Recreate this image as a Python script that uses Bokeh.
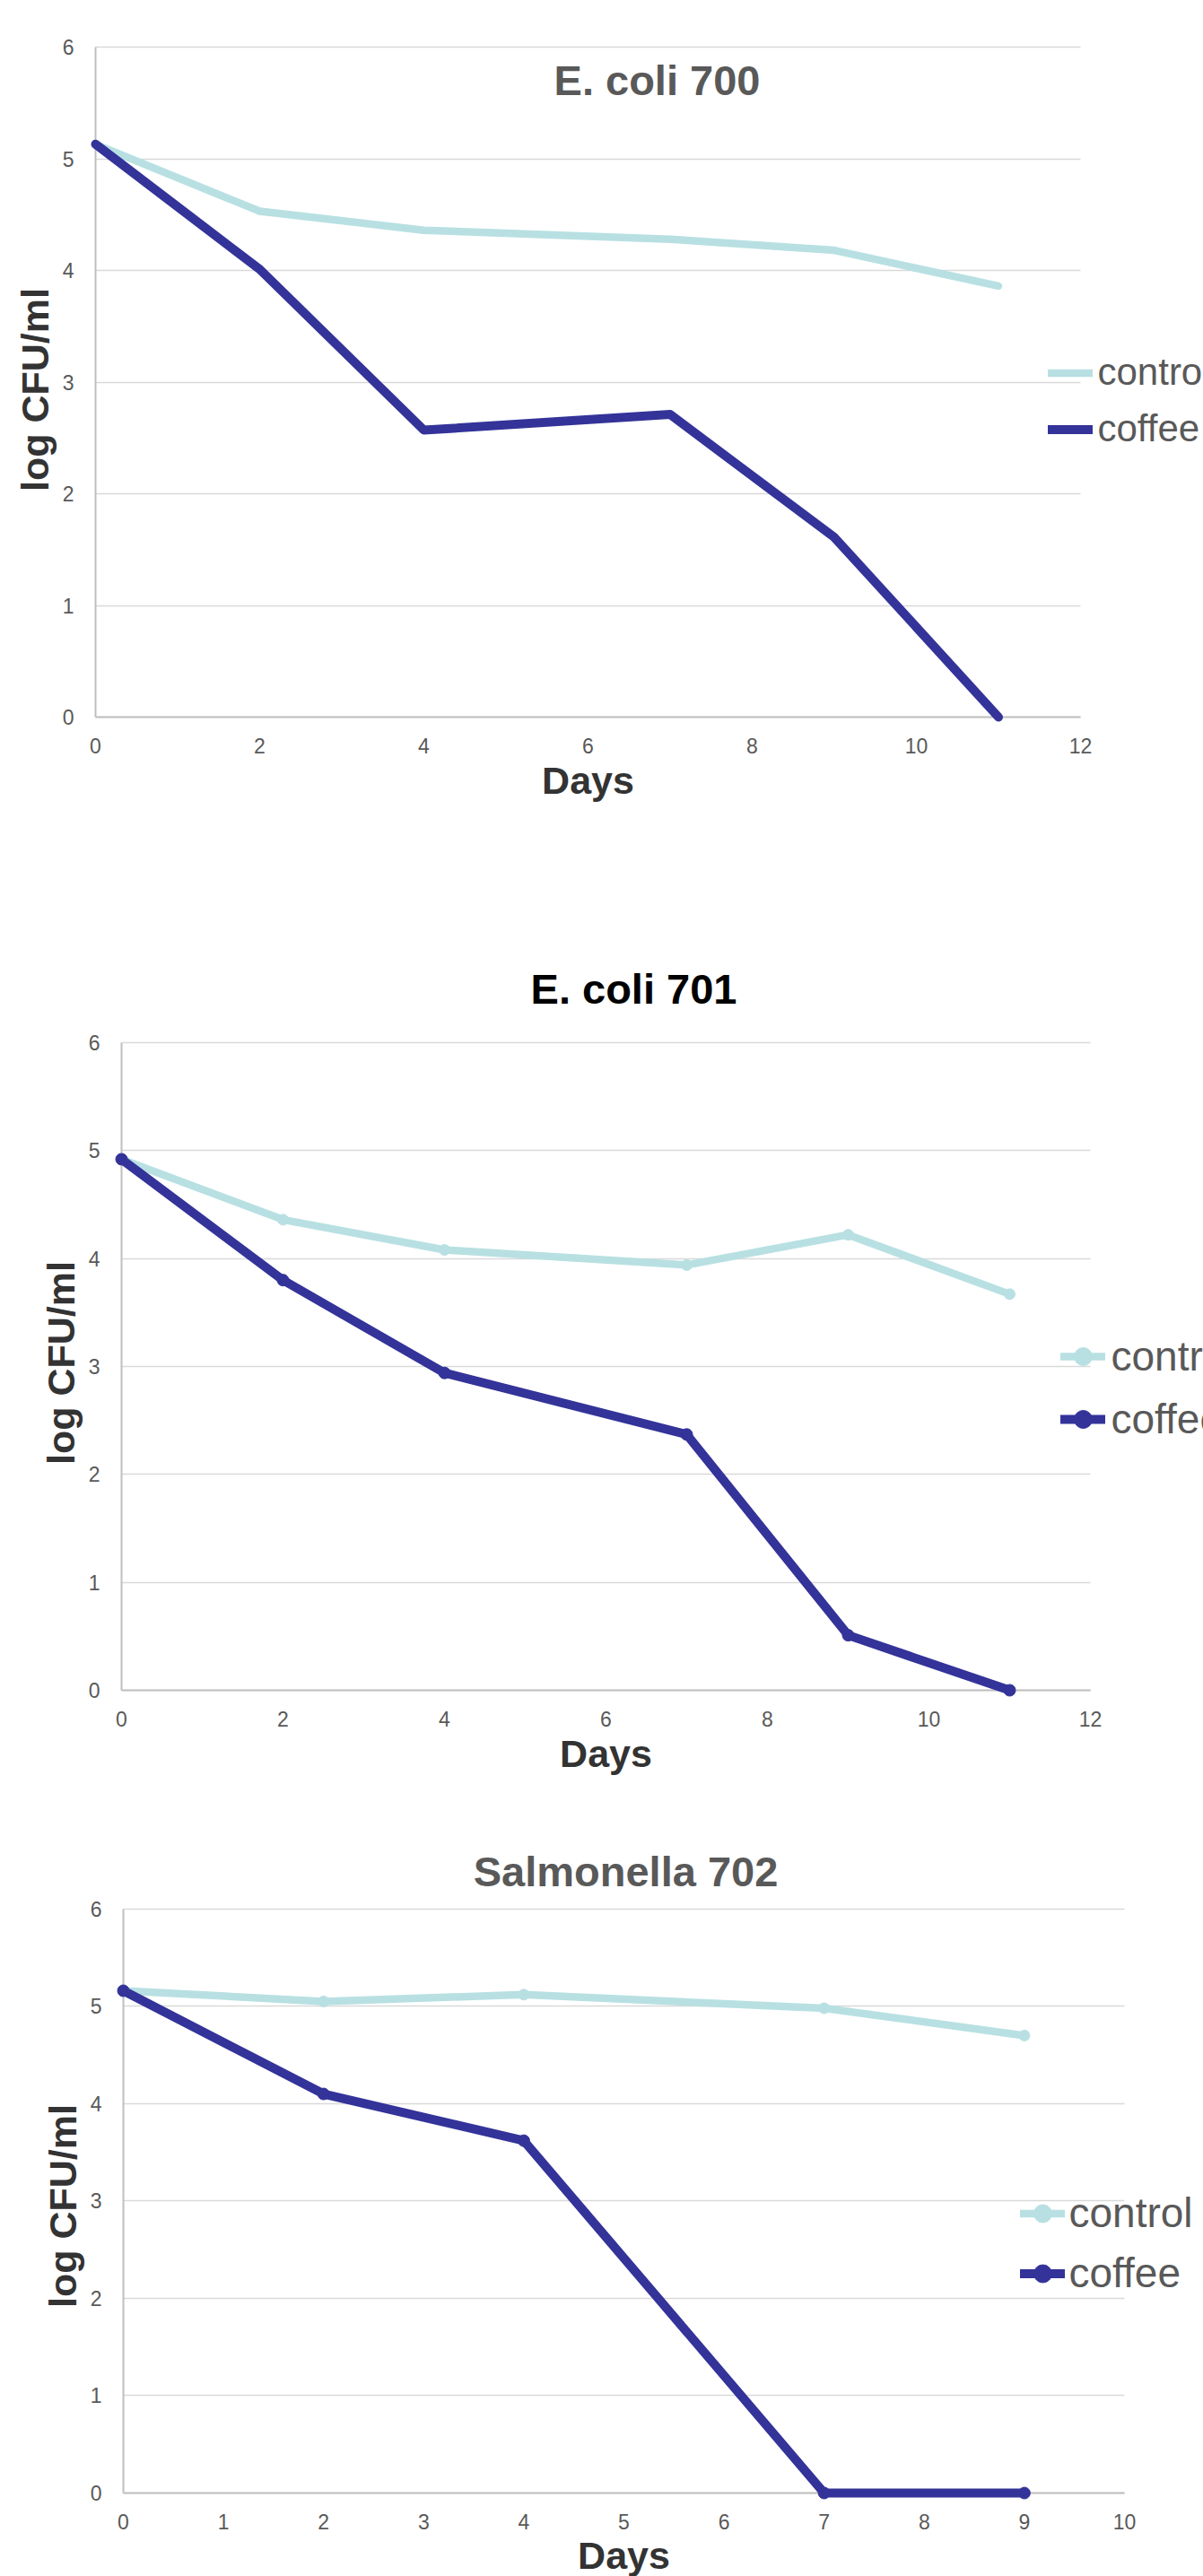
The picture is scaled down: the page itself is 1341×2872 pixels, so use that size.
from bokeh.plotting import figure
from bokeh.models import Range1d, Legend, LegendItem, Label, FixedTicker, Grid, Title
from bokeh.layouts import column
from bokeh.embed import file_html
from bokeh.resources import INLINE

# ---------------- data ----------------
titles = ["E. coli 700", "E. coli 701", "Salmonella 702"]
series_names = ["control", "coffee"]

days_700 = [0, 2, 4, 7, 9, 11]
control_700 = [5.13, 4.53, 4.36, 4.28, 4.18, 3.86]
coffee_700 = [5.13, 4.01, 2.57, 2.71, 1.61, 0.0]

days_701 = [0, 2, 4, 7, 9, 11]
control_701 = [4.92, 4.36, 4.08, 3.94, 4.22, 3.67]
coffee_701 = [4.92, 3.80, 2.94, 2.37, 0.51, 0.0]

days_702 = [0, 2, 4, 7, 9]
control_702 = [5.16, 5.05, 5.12, 4.98, 4.70]
coffee_702 = [5.16, 4.10, 3.62, 0.0, 0.0]

x_ticks_12 = [0, 2, 4, 6, 8, 10, 12]
x_ticks_10 = [0, 1, 2, 3, 4, 5, 6, 7, 8, 9, 10]
y_ticks = [0, 1, 2, 3, 4, 5, 6]

x_label = "Days"
y_label = "log CFU/ml"

# ---------------- styles / layout ----------------
FONT = "Liberation Sans"
CONTROL_COLOR = "#b8e0e3"
COFFEE_COLOR = "#333399"
GRID_COLOR = "#d9d9d9"
AXIS_COLOR = "#bfbfbf"
TICK_COLOR = "#595959"
LABEL_COLOR = "#333333"
PAGE_W = 1341
PAD_X, PAD_Y = 8, 10
TITLE_DY = -14          # baseline correction for the title labels
LABEL_FS = 43
DAYS_W = 2.39 * LABEL_FS       # approx. width of "Days" (bold)
YLAB_W = 5.278 * LABEL_FS      # approx. width of "log CFU/ml" (bold)

charts = [
    dict(title=titles[0], title_color="#595959", days=days_700, control=control_700, coffee=coffee_700,
         xmax=12, xticks=x_ticks_12, top=0, bottom=962, x0=106, x1=1204, y0=799, y6=52,
         title_cx=732, title_base=103, markers=False, ylab_cy=434, days_standoff=2,
         leg_left=1167.5, leg_top=383.5, leg_row=63, leg_font=42, leg_standoff=6),
    dict(title=titles[1], title_color="#000000", days=days_701, control=control_701, coffee=coffee_701,
         xmax=12, xticks=x_ticks_12, top=962, bottom=1995, x0=135, x1=1215, y0=1884, y6=1162,
         title_cx=706, title_base=1116, markers=True, ylab_cy=1519, days_standoff=2,
         leg_left=1181.5, leg_top=1477, leg_row=70, leg_font=46, leg_standoff=7),
    dict(title=titles[2], title_color="#595959", days=days_702, control=control_702, coffee=coffee_702,
         xmax=10, xticks=x_ticks_10, top=1995, bottom=2872, x0=137, x1=1253, y0=2780, y6=2128,
         title_cx=697, title_base=2100, markers=True, ylab_cy=2460, days_standoff=0,
         leg_left=1136.5, leg_top=2434.5, leg_row=67, leg_font=46, leg_standoff=5),
]

figs = []
for c in charts:
    ppu_x = (c["x1"] - c["x0"]) / c["xmax"]
    ppu_y = (c["y0"] - c["y6"]) / 6.0
    frame_left = c["x0"] - PAD_X
    frame_bottom = c["y0"] + PAD_Y
    x_lo = -PAD_X / ppu_x
    x_hi = c["xmax"] + (PAGE_W - c["x1"]) / ppu_x
    y_lo = -PAD_Y / ppu_y
    y_hi = 6 + (c["y6"] - c["top"]) / ppu_y
    p = figure(width=PAGE_W, height=c["bottom"] - c["top"],
               x_range=Range1d(x_lo, x_hi), y_range=Range1d(y_lo, y_hi),
               output_backend="svg", toolbar_location=None, title=None,
               min_border_left=int(round(frame_left)), min_border_right=0,
               min_border_top=0, min_border_bottom=int(round(c["bottom"] - frame_bottom)))
    if "frame_align" in p.properties():
        p.frame_align = False
    p.outline_line_color = None
    p.background_fill_color = "white"
    p.border_fill_color = "white"

    # horizontal grid lines between x=0 and x=xmax
    p.xgrid.visible = False
    p.ygrid.ticker = FixedTicker(ticks=y_ticks)
    p.ygrid.grid_line_color = GRID_COLOR
    p.ygrid.grid_line_width = 1.6
    p.ygrid.cross_bounds = (0, c["xmax"])
    # axis lines at x=0 and y=0
    p.add_layout(Grid(dimension=0, ticker=FixedTicker(ticks=[0]), cross_bounds=(0, 6),
                      grid_line_color=AXIS_COLOR, grid_line_width=2))
    p.add_layout(Grid(dimension=1, ticker=FixedTicker(ticks=[0]), cross_bounds=(0, c["xmax"]),
                      grid_line_color=AXIS_COLOR, grid_line_width=2))

    # axes (tick labels)
    for ax in (p.xaxis[0], p.yaxis[0]):
        ax.major_tick_line_color = None
        ax.minor_tick_line_color = None
        ax.axis_line_color = None
        ax.major_label_text_font = FONT
        ax.major_label_text_font_size = "23px"
        ax.major_label_text_color = TICK_COLOR
    p.xaxis.ticker = FixedTicker(ticks=c["xticks"])
    p.xaxis.bounds = (0, c["xmax"])
    p.xaxis.major_label_standoff = 17 - PAD_Y
    p.yaxis.ticker = FixedTicker(ticks=y_ticks)
    p.yaxis.bounds = (0, 6)
    p.yaxis.major_label_standoff = 18 - PAD_X

    # axis titles, placed along the plotted range (not the extended frame)
    days_cx = c["x0"] + c["xmax"] / 2.0 * ppu_x
    p.add_layout(Title(text=x_label, align="left", offset=days_cx - DAYS_W / 2 - frame_left,
                       standoff=c["days_standoff"], text_font=FONT, text_font_style="bold",
                       text_font_size=f"{LABEL_FS}px", text_color=LABEL_COLOR), "below")
    p.add_layout(Title(text=y_label, align="left",
                       offset=frame_bottom - (c["ylab_cy"] + YLAB_W / 2),
                       standoff=8, text_font=FONT, text_font_style="bold",
                       text_font_size=f"{LABEL_FS}px", text_color=LABEL_COLOR), "left")

    # series
    lc = p.line(c["days"], c["control"], line_color=CONTROL_COLOR, line_width=8.5,
                line_join="round", line_cap="round")
    lf = p.line(c["days"], c["coffee"], line_color=COFFEE_COLOR, line_width=10,
                line_join="round", line_cap="round")
    rc, rf = [lc], [lf]
    if c["markers"]:
        rc.append(p.scatter(c["days"], c["control"], size=12, color=CONTROL_COLOR))
        rf.append(p.scatter(c["days"], c["coffee"], size=13, color=COFFEE_COLOR))

    # chart title
    p.add_layout(Label(x=(c["title_cx"] - c["x0"]) / ppu_x,
                       y=(c["y0"] - (c["title_base"] + TITLE_DY)) / ppu_y,
                       text=c["title"], text_align="center", text_baseline="alphabetic",
                       text_font=FONT, text_font_style="bold", text_font_size="47px",
                       text_color=c["title_color"]))

    # legend
    leg_bottom = c["leg_top"] + 2 * c["leg_row"]
    legend = Legend(items=[LegendItem(label=series_names[0], renderers=rc),
                           LegendItem(label=series_names[1], renderers=rf)],
                    location=(c["leg_left"] - frame_left, frame_bottom - leg_bottom),
                    orientation="vertical", glyph_width=50, glyph_height=c["leg_row"],
                    label_height=c["leg_row"], spacing=0, padding=0, margin=0,
                    label_standoff=c["leg_standoff"], border_line_color=None,
                    background_fill_alpha=0, label_text_font=FONT,
                    label_text_font_size=f'{c["leg_font"]}px', label_text_color="#595959")
    p.add_layout(legend)
    figs.append(p)

layout = column(*figs, spacing=0)
open("out.html", "w").write(file_html(layout, INLINE))
